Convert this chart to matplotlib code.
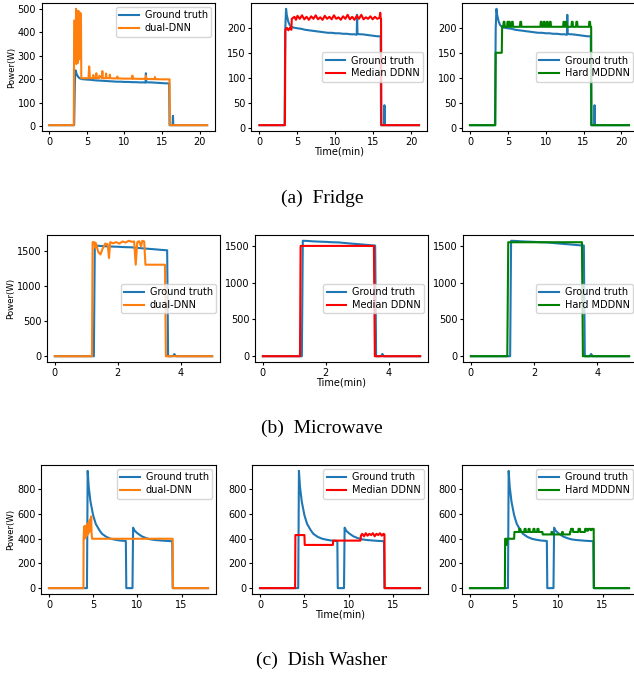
import numpy as np
import matplotlib
matplotlib.use('Agg')
import matplotlib.pyplot as plt

# ---------------- Fridge (time in min, power in W) ----------------
fr_gt_t = [0, 3.3, 3.4, 3.5, 3.6, 3.8, 4.0, 4.3, 5.0, 5.5, 6.0, 6.5, 7.0, 7.5, 8.0, 8.5, 9.0, 9.5, 10.0,
           10.5, 11.0, 11.5, 12.0, 12.5, 12.8, 12.85, 12.9, 13.2, 13.5, 14.0, 14.5, 15.0, 15.5, 15.95,
           16.0, 16.4, 16.45, 16.5, 21.0]
fr_gt = [5, 5, 200, 238, 225, 212, 205, 201, 199, 198, 196, 195, 194, 193, 192, 191, 190, 190, 189,
         189, 188, 188, 187, 187, 186, 226, 188, 187, 187, 186, 185, 184, 183, 183,
         5, 5, 45, 5, 5]

fr_dual_t = [0, 3.25, 3.3, 3.45, 3.5, 3.55, 3.6, 3.65, 3.7, 3.75, 3.8, 3.85, 3.9, 3.95, 4.0, 4.05, 4.1,
             4.15, 4.2, 4.25, 4.5, 5.2, 5.3, 5.4, 5.8, 5.85, 5.9, 6.2, 6.25, 6.3, 6.6, 6.65, 7.0, 7.05,
             7.1, 7.5, 7.55, 7.6, 8.0, 8.05, 8.1, 8.5, 9.0, 9.05, 9.1, 10.0, 11.0, 11.05, 11.1, 12.0,
             12.8, 12.85, 12.9, 13.5, 14.0, 14.05, 14.1, 15.0, 15.9, 16.0, 16.05, 21.0]
fr_dual = [5, 5, 450, 450, 330, 500, 265, 485, 300, 490, 270, 480, 490, 285, 485, 300, 480,
           480, 480, 205, 205, 205, 255, 205, 205, 218, 205, 205, 226, 205, 205, 215, 205, 235,
           205, 205, 225, 205, 205, 220, 205, 204, 204, 212, 204, 203, 203, 216, 203, 202,
           202, 215, 202, 201, 201, 210, 201, 200, 200, 200, 5, 5]

fr_med_t = [0, 3.35, 3.4, 3.6, 3.8, 4.0, 4.2, 4.25, 4.6, 4.8, 5.0, 5.3, 5.6, 5.9, 6.2, 6.5, 6.8, 7.1,
            7.4, 7.7, 8.0, 8.3, 8.6, 8.9, 9.2, 9.5, 9.8, 10.1, 10.4, 10.7, 11.0, 11.3, 11.6, 11.9,
            12.2, 12.5, 12.8, 13.1, 13.4, 13.7, 14.0, 14.3, 14.6, 14.9, 15.2, 15.5, 15.8, 15.9,
            15.95, 16.0, 16.05, 21.0]
fr_med = [5, 5, 195, 200, 195, 200, 196, 218, 222, 216, 224, 218, 225, 217, 222, 216, 223, 218,
          225, 217, 221, 216, 224, 218, 222, 217, 225, 218, 221, 216, 223, 218, 226, 217,
          222, 216, 224, 218, 226, 217, 221, 218, 223, 217, 222, 218, 220, 230,
          218, 218, 5, 5]

fr_hard_t = [0, 3.35, 3.4, 4.2, 4.25, 4.4, 4.45, 4.55, 4.6, 4.9, 4.95, 5.05, 5.1, 5.15, 5.25, 5.3,
             5.5, 5.55, 5.65, 5.7, 6.6, 6.65, 6.75, 6.8, 9.3, 9.35, 9.45, 9.5, 9.7, 9.75, 9.85, 9.9,
             10.1, 10.15, 10.25, 10.3, 10.5, 10.55, 10.65, 10.7, 12.3, 12.35, 12.45, 12.5, 12.6,
             12.65, 12.75, 12.8, 13.4, 13.45, 13.55, 13.6, 14.0, 14.05, 14.15, 14.2, 15.7, 15.75,
             15.85, 15.9, 16.0, 16.05, 21.0]
fr_hard = [5, 5, 150, 150, 202, 202, 212, 212, 202, 202, 212, 212, 202, 212, 212, 202,
           202, 212, 212, 202, 202, 212, 212, 202, 202, 212, 212, 202, 202, 212, 212, 202,
           202, 212, 212, 202, 202, 212, 212, 202, 202, 212, 212, 202, 202,
           212, 212, 202, 202, 212, 212, 202, 202, 212, 212, 202, 202, 212,
           212, 202, 202, 5, 5]

# ---------------- Microwave ----------------
mw_gt_t = [0, 1.24, 1.27, 1.4, 1.6, 1.8, 2.0, 2.2, 2.4, 2.6, 2.8, 3.0, 3.2, 3.4, 3.57, 3.6, 3.75,
           3.8, 3.85, 5.0]
mw_gt = [0, 0, 1570, 1568, 1562, 1558, 1555, 1550, 1548, 1540, 1532, 1525, 1518, 1510, 1505, 0, 0,
         30, 0, 0]

mw_dual_t = [0, 1.18, 1.2, 1.26, 1.28, 1.3, 1.38, 1.45, 1.52, 1.6, 1.68, 1.72, 1.76, 1.85, 1.95,
             2.05, 2.15, 2.25, 2.35, 2.45, 2.52, 2.57, 2.62, 2.68, 2.74, 2.78, 2.84, 2.88, 3.5, 3.53,
             5.0]
mw_dual = [0, 0, 1620, 1620, 1540, 1610, 1480, 1445, 1530, 1600, 1590, 1395, 1620, 1605, 1620,
           1600, 1630, 1615, 1640, 1625, 1630, 1300, 1620, 1635, 1560, 1640, 1630, 1300, 1300, 0,
           0]

mw_med_t = [0, 1.18, 1.2, 3.53, 3.56, 5.0]
mw_med = [0, 0, 1500, 1500, 0, 0]

mw_hard_t = [0, 1.15, 1.18, 3.51, 3.54, 5.0]
mw_hard = [0, 0, 1550, 1550, 0, 0]

# ---------------- Dish Washer ----------------
dw_gt_t = [0, 4.3, 4.38, 4.5, 4.7, 5.0, 5.3, 5.7, 6.0, 6.5, 7.0, 7.5, 8.0, 8.7, 8.75, 9.45, 9.52,
           9.7, 10.0, 10.5, 11.0, 11.5, 12.0, 13.0, 13.95, 14.0, 18.0]
dw_gt = [0, 0, 950, 820, 700, 590, 520, 470, 440, 415, 400, 392, 386, 382, 0, 0, 490,
         465, 445, 420, 405, 395, 390, 384, 380, 0, 0]

dw_dual_t = [0, 3.9, 3.92, 3.98, 4.02, 4.08, 4.12, 4.18, 4.22, 4.28, 4.32, 4.38, 4.42, 4.48, 4.52,
             4.58, 4.62, 4.68, 4.72, 4.78, 4.82, 4.88, 14.0, 14.03, 18.0]
dw_dual = [0, 0, 400, 500, 400, 500, 410, 505, 420, 510, 430, 520, 440, 530, 450,
           545, 460, 560, 470, 580, 450, 400, 400, 0, 0]

dw_med_t = [0, 3.95, 3.98, 5.0, 5.03, 8.2, 8.23, 11.3, 11.35, 11.5, 11.7, 11.9, 12.1, 12.3, 12.5,
            12.7, 12.9, 13.1, 13.3, 13.5, 13.7, 13.9, 14.0, 14.03, 18.0]
dw_med = [0, 0, 430, 430, 350, 350, 385, 385, 425, 440, 420, 445, 425, 440, 430,
          445, 420, 440, 430, 445, 425, 440, 435, 0, 0]

dw_hard_t = [0, 3.95, 3.98, 4.1, 4.15, 4.2, 5.0, 5.03, 5.55, 5.58, 5.7, 5.73, 6.15, 6.18, 6.3,
             6.33, 6.6, 6.63, 6.75, 6.78, 7.15, 7.18, 7.3, 7.33, 7.6, 7.63, 7.75, 7.78, 8.2, 8.23,
             9.2, 9.23, 9.3, 9.33, 10.4, 10.43, 10.5, 10.53, 11.3, 11.33, 11.4, 11.43, 11.65, 11.68,
             12.25, 12.28, 12.45, 12.48, 13.0, 13.03, 13.2, 13.23, 13.35, 13.38, 13.6, 13.63, 13.75,
             13.78, 14.0, 14.03, 18.0]
dw_hard = [0, 0, 400, 400, 350, 400, 400, 455, 455, 480, 480, 455, 455, 480, 480,
           455, 455, 480, 480, 455, 455, 480, 480, 455, 455, 480, 480, 455, 455, 435,
           435, 455, 455, 435, 435, 455, 455, 435, 435, 455, 455, 480, 480, 455,
           455, 480, 480, 455, 455, 480, 480, 465, 465, 480, 480, 470, 470,
           480, 480, 0, 0]

captions = ['(a)  Fridge', '(b)  Microwave', '(c)  Dish Washer']
model_names = ['dual-DNN', 'Median DDNN', 'Hard MDDNN']
model_colors = ['#ff7f0e', 'red', 'green']

rows = [
    (fr_gt_t, fr_gt, [(fr_dual_t, fr_dual), (fr_med_t, fr_med), (fr_hard_t, fr_hard)],
     ['upper right', 'center right', 'center right']),
    (mw_gt_t, mw_gt, [(mw_dual_t, mw_dual), (mw_med_t, mw_med), (mw_hard_t, mw_hard)],
     ['center right', 'center right', 'center right']),
    (dw_gt_t, dw_gt, [(dw_dual_t, dw_dual), (dw_med_t, dw_med), (dw_hard_t, dw_hard)],
     ['upper right', 'upper right', 'upper right']),
]

# axes boxes in pixels: (left, right) per column, (top, bottom) per row
col_px = [[(41.5, 215), (251.5, 427), (462, 637)],
          [(47, 220), (255, 428), (463, 637)],
          [(41, 216), (252, 428), (462, 637)]]
row_px = [(3, 131), (235, 362), (465, 594)]
cap_y = [198, 428, 660]

W, H = 634, 674
fig = plt.figure(figsize=(W / 100, H / 100), dpi=100)

for r, (gt_t, gt, preds, locs) in enumerate(rows):
    top, bot = row_px[r]
    for c in range(3):
        l, rr = col_px[r][c]
        ax = fig.add_axes([l / W, 1 - bot / H, (rr - l) / W, (bot - top) / H])
        ax.plot(gt_t, gt, color='#1f77b4', lw=1.5, label='Ground truth')
        pt, py = preds[c]
        ax.plot(pt, py, color=model_colors[c], lw=1.5, label=model_names[c])
        ax.tick_params(labelsize=7, length=2.5, width=0.8, pad=1.5)
        leg = ax.legend(loc=locs[c], fontsize=7, handlelength=2.0, borderpad=0.35,
                        labelspacing=0.3, borderaxespad=0.4, handletextpad=0.6)
        if c == 0:
            ax.set_ylabel('Power(W)', fontsize=6.2, labelpad=1)
        if c == 1:
            ax.set_xlabel('Time(min)', fontsize=7, labelpad=0)
    fig.text(322 / W, 1 - cap_y[r] / H, captions[r], ha='center', va='center',
             fontsize=14, family='Liberation Serif')

fig.savefig('out.png', dpi=100)
